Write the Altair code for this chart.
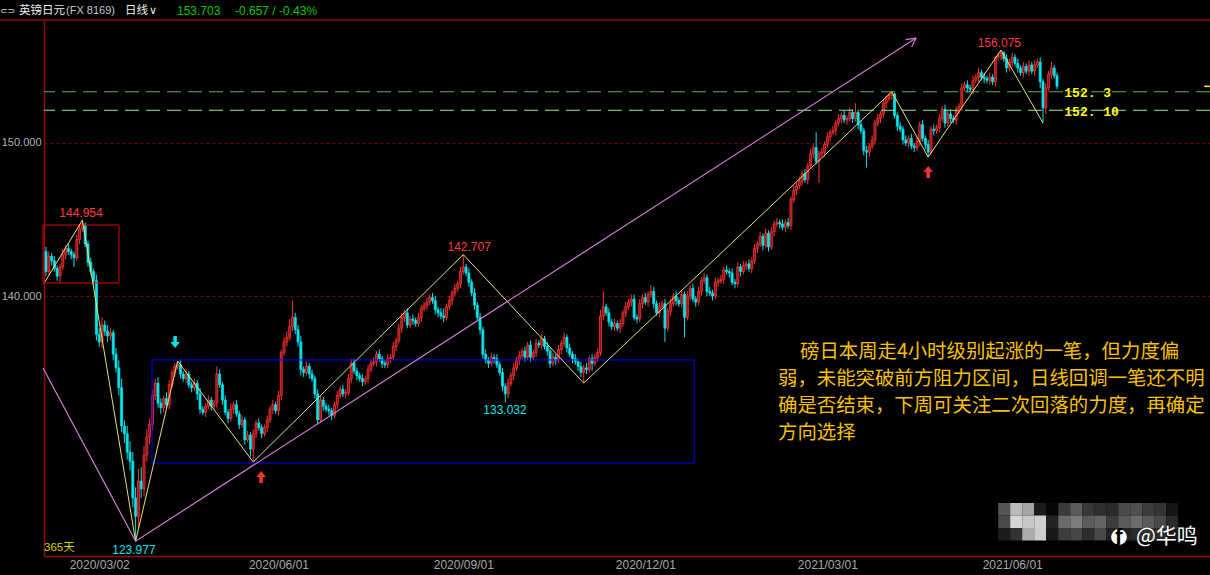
import altair as alt
import pandas as pd
import jinja2

# ---------------- candle data (GBP/JPY daily) ----------------
first_open = 142.9
closes = [
    141.6, 142.6, 142.3, 141.8, 141.3, 141.9, 142.7, 143.1, 142.9, 142.7,   # 0
    142.5, 143.7, 144.4, 144.6, 143.4, 142.2, 141.6, 141.0, 137.5, 137.0,   # 10
    138.1, 137.7, 137.4, 137.6, 136.2, 135.3, 134.0, 131.5, 131.0, 129.8,   # 20
    129.2, 126.8, 125.6, 127.9, 127.4, 129.6, 130.8, 131.6, 133.5, 134.3,   # 30
    133.0, 132.7, 133.3, 132.9, 134.2, 135.0, 135.4, 135.5, 134.9, 134.6,   # 40
    134.9, 134.2, 134.0, 134.3, 133.6, 132.6, 132.4, 132.8, 133.2, 132.8,   # 50
    133.0, 134.9, 134.2, 133.2, 132.4, 132.0, 132.6, 132.9, 132.3, 131.6,   # 60
    131.9, 130.6, 130.9, 130.0, 131.0, 131.7, 131.4, 131.0, 131.4, 131.9,   # 70
    132.6, 132.9, 132.5, 133.5, 136.3, 137.0, 137.3, 138.0, 138.6, 137.8,   # 80
    137.0, 135.2, 135.0, 135.4, 134.9, 134.6, 133.6, 131.9, 133.2, 132.8,   # 90
    132.6, 132.5, 132.2, 132.9, 133.5, 133.9, 133.6, 133.7, 134.6, 135.6,   # 100
    135.1, 134.8, 134.6, 134.4, 134.6, 135.2, 135.6, 135.7, 136.2, 135.9,   # 110
    135.6, 135.5, 135.9, 136.0, 136.7, 137.1, 137.9, 138.6, 138.9, 138.1,   # 120
    138.5, 138.4, 138.2, 138.6, 139.2, 139.4, 139.6, 139.9, 139.7, 139.1,   # 130
    138.9, 138.7, 138.6, 139.3, 139.7, 140.2, 140.5, 140.8, 141.6, 141.9,   # 140
    141.5, 140.9, 140.2, 139.4, 138.6, 137.8, 136.2, 135.8, 135.6, 136.0,   # 150
    135.9, 135.5, 135.0, 134.1, 133.6, 134.3, 134.8, 135.3, 135.8, 136.1,   # 160
    136.4, 136.0, 136.8, 136.0, 136.3, 136.9, 136.8, 137.2, 136.7, 136.4,   # 170
    135.6, 136.0, 135.8, 136.5, 136.9, 137.3, 136.6, 136.2, 135.9, 135.7,   # 180
    135.4, 135.0, 135.3, 135.2, 135.9, 135.6, 136.0, 136.3, 138.7, 139.3,   # 190
    138.9, 138.3, 138.0, 138.2, 137.9, 138.2, 138.9, 139.3, 139.6, 139.8,   # 200
    138.6, 138.5, 139.5, 139.9, 139.6, 140.1, 140.3, 139.5, 138.9, 139.3,   # 210
    139.5, 137.9, 139.0, 139.5, 140.0, 139.7, 139.5, 140.1, 138.6, 140.0,   # 220
    140.5, 139.8, 139.6, 140.3, 141.0, 141.2, 140.3, 140.2, 140.0, 140.9,   # 230
    141.0, 141.1, 141.7, 141.6, 141.5, 140.9, 140.8, 141.9, 141.6, 142.0,   # 240
    142.1, 141.8, 142.3, 143.1, 143.4, 143.9, 143.3, 144.1, 143.2, 144.2,   # 250
    144.7, 144.8, 144.7, 144.5, 144.8, 144.6, 146.3, 146.9, 147.2, 147.5,   # 260
    148.0, 147.6, 148.5, 149.3, 149.7, 148.8, 149.3, 149.4, 149.9, 150.4,   # 270
    150.7, 150.8, 151.3, 151.6, 151.8, 151.5, 151.6, 152.0, 151.6, 152.0,   # 280
    151.2, 150.8, 149.5, 149.4, 149.8, 150.2, 151.3, 151.6, 151.9, 152.6,   # 290
    152.9, 153.1, 153.2, 151.8, 151.1, 150.9, 150.2, 150.0, 150.3, 149.8,   # 300
    149.7, 150.1, 151.2, 150.3, 149.9, 149.4, 150.9, 150.8, 151.0, 151.6,   # 310
    152.2, 151.3, 151.9, 151.6, 151.5, 152.1, 152.4, 153.6, 153.8, 153.6,   # 320
    153.5, 154.1, 154.3, 154.6, 154.3, 154.2, 154.1, 154.3, 154.0, 155.6,   # 330
    155.7, 155.9, 155.5, 154.9, 155.3, 155.6, 155.2, 154.9, 154.6, 155.0,   # 340
    154.7, 155.1, 154.7, 155.1, 155.3, 154.0, 152.3, 153.6, 154.5, 154.9,   # 350
    154.4, 153.703,                                                         # 360
]
wick_up = [
    0.3, 0.3, 0.2, 0.3, 0.2, 0.2, 0.4, 0.2, 0.3, 0.2,
    0.2, 0.3, 0.3, 0.354, 0.2, 0.2, 0.3, 0.2, 0.4, 0.4,
    0.5, 0.3, 0.4, 0.3, 0.2, 0.4, 0.5, 0.6, 0.4, 0.5,
    0.7, 0.6, 0.7, 0.8, 0.9, 0.6, 0.5, 0.4, 0.4, 0.3,
    0.4, 0.3, 0.2, 0.4, 0.3, 0.2, 0.2, 0.25, 0.3, 0.2,
    0.3, 0.2, 0.2, 0.3, 0.2, 0.4, 0.2, 0.2, 0.3, 0.2,
    0.2, 0.5, 0.3, 0.2, 0.3, 0.2, 0.4, 0.2, 0.3, 0.2,
    0.3, 0.2, 0.3, 0.2, 0.3, 0.2, 0.3, 0.2, 0.2, 0.3,
    0.2, 0.3, 0.2, 0.3, 0.2, 0.3, 0.4, 0.5, 1.1, 0.3,
    0.3, 0.4, 0.2, 0.3, 0.2, 0.3, 0.2, 0.3, 0.3, 0.2,
    0.2, 0.3, 0.2, 0.2, 0.3, 0.2, 0.3, 0.2, 0.3, 0.3,
    0.3, 0.2, 0.2, 0.3, 0.2, 0.3, 0.2, 0.3, 0.2, 0.3,
    0.2, 0.2, 0.3, 0.2, 0.3, 0.2, 0.3, 0.3, 0.2, 0.3,
    0.2, 0.3, 0.2, 0.3, 0.2, 0.2, 0.3, 0.2, 0.3, 0.3,
    0.2, 0.3, 0.5, 0.2, 0.3, 0.2, 0.3, 0.2, 0.3, 0.807,
    0.2, 0.3, 0.2, 0.3, 0.2, 0.3, 0.2, 0.3, 0.2, 0.3,
    0.2, 0.3, 0.2, 0.3, 0.2, 0.3, 0.2, 0.3, 0.2, 0.3,
    0.2, 0.3, 0.2, 0.3, 0.2, 0.3, 0.2, 0.3, 0.2, 0.3,
    0.2, 0.3, 0.2, 0.3, 0.2, 0.3, 0.2, 0.3, 0.2, 0.3,
    0.2, 0.3, 0.2, 0.3, 0.2, 0.3, 0.2, 0.3, 0.4, 1.0,
    0.2, 0.3, 0.2, 0.3, 0.2, 0.3, 0.2, 0.3, 0.2, 0.3,
    0.3, 0.2, 0.3, 0.2, 0.3, 0.2, 0.4, 0.3, 0.2, 0.3,
    0.2, 0.3, 0.2, 0.3, 0.2, 0.3, 0.2, 0.3, 0.2, 0.3,
    0.2, 0.3, 0.2, 0.3, 0.2, 0.3, 0.2, 0.3, 0.2, 0.3,
    0.2, 0.3, 0.2, 0.3, 0.2, 0.3, 0.2, 0.3, 0.2, 0.3,
    0.2, 0.3, 0.2, 0.3, 0.2, 0.3, 0.2, 0.3, 0.2, 0.3,
    0.2, 0.3, 0.2, 0.3, 0.2, 0.3, 0.2, 0.3, 0.2, 0.3,
    0.2, 0.3, 0.2, 0.3, 0.2, 1.0, 0.2, 0.3, 0.2, 0.3,
    0.2, 0.3, 0.2, 0.3, 0.2, 0.3, 0.2, 0.3, 0.2, 0.6,
    0.2, 0.3, 0.2, 0.3, 0.2, 0.3, 0.2, 0.3, 0.2, 0.3,
    0.2, 0.15, 0.15, 0.1, 0.2, 0.3, 0.2, 0.3, 0.2, 0.3,
    0.2, 0.3, 0.2, 0.3, 0.2, 0.3, 0.2, 0.3, 0.2, 0.3,
    0.2, 0.3, 0.2, 0.3, 0.2, 0.3, 0.2, 0.3, 0.2, 0.3,
    0.2, 0.3, 0.2, 0.3, 0.2, 0.3, 0.2, 0.3, 0.2, 0.1,
    0.2, 0.175, 0.1, 0.3, 0.2, 0.3, 0.2, 0.3, 0.2, 0.3,
    0.2, 0.3, 0.2, 0.3, 0.2, 0.3, 0.2, 0.3, 0.2, 0.4,
    0.2, 0.2,
]
wick_dn = [
    0.3, 0.2, 0.3, 0.2, 0.3, 0.4, 0.2, 0.3, 0.2, 0.3,
    0.6, 0.2, 0.3, 0.2, 0.2, 0.3, 0.2, 0.3, 0.4, 0.3,
    0.4, 0.3, 0.4, 0.3, 0.4, 0.3, 0.5, 0.4, 0.6, 0.5,
    0.6, 0.6, 1.623, 0.8, 0.6, 0.5, 0.4, 0.5, 0.4, 0.3,
    0.3, 0.4, 0.3, 0.2, 0.3, 0.2, 0.3, 0.2, 0.3, 0.2,
    0.3, 0.2, 0.3, 0.2, 0.4, 0.3, 0.2, 0.3, 0.2, 0.3,
    0.2, 0.3, 0.2, 0.3, 0.2, 0.3, 0.2, 0.3, 0.2, 0.3,
    0.2, 0.3, 0.2, 0.5, 0.85, 0.3, 0.2, 0.3, 0.2, 0.3,
    0.2, 0.3, 0.2, 0.3, 0.3, 0.2, 0.3, 0.2, 0.3, 0.3,
    0.3, 0.4, 0.3, 0.2, 0.3, 0.2, 0.3, 0.3, 0.2, 0.3,
    0.2, 0.3, 0.3, 0.2, 0.3, 0.2, 0.2, 0.3, 0.2, 0.3,
    0.2, 0.3, 0.2, 0.3, 0.2, 0.3, 0.2, 0.2, 0.3, 0.2,
    0.3, 0.2, 0.2, 0.3, 0.2, 0.3, 0.2, 0.3, 0.3, 0.2,
    0.2, 0.3, 0.2, 0.2, 0.3, 0.2, 0.3, 0.2, 0.2, 0.3,
    0.3, 0.2, 0.3, 0.2, 0.2, 0.3, 0.2, 0.2, 0.3, 0.2,
    0.2, 0.3, 0.2, 0.3, 0.2, 0.3, 0.3, 0.2, 0.3, 0.2,
    0.3, 0.2, 0.2, 0.3, 0.568, 0.3, 0.2, 0.3, 0.2, 0.3,
    0.2, 0.3, 0.2, 0.3, 0.2, 0.3, 0.2, 0.3, 0.2, 0.3,
    0.3, 0.2, 0.3, 0.2, 0.3, 0.2, 0.3, 0.2, 0.3, 0.2,
    0.3, 0.3, 0.69, 0.3, 0.2, 0.5, 0.2, 0.3, 0.2, 0.3,
    0.2, 0.3, 0.2, 0.3, 0.2, 0.3, 0.2, 0.3, 0.2, 0.3,
    0.2, 0.3, 0.2, 0.3, 0.2, 0.3, 0.2, 0.3, 0.2, 0.3,
    0.2, 0.9, 0.2, 0.3, 0.2, 0.3, 0.2, 0.3, 1.3, 0.2,
    0.3, 0.2, 0.3, 0.2, 0.3, 0.2, 0.3, 0.2, 0.3, 0.2,
    0.3, 0.2, 0.3, 0.2, 0.3, 0.2, 0.3, 0.2, 0.3, 0.2,
    0.3, 0.2, 0.3, 0.2, 0.3, 0.2, 0.3, 0.2, 0.3, 0.2,
    0.3, 0.2, 0.3, 0.2, 0.3, 0.2, 0.3, 0.2, 0.3, 0.2,
    0.3, 0.2, 0.3, 0.2, 0.3, 0.2, 1.4, 0.2, 0.3, 0.2,
    0.3, 0.2, 0.3, 0.2, 0.3, 0.2, 0.3, 0.2, 0.3, 0.2,
    0.3, 0.2, 0.3, 1.0, 0.3, 0.2, 0.3, 0.2, 0.3, 0.2,
    0.3, 0.2, 0.3, 0.2, 0.3, 0.2, 0.3, 0.2, 0.3, 0.2,
    0.3, 0.2, 0.3, 0.2, 0.3, 0.32, 0.2, 0.3, 0.2, 0.3,
    0.2, 0.3, 0.2, 0.3, 0.2, 0.3, 0.2, 0.3, 0.2, 0.3,
    0.2, 0.3, 0.2, 0.3, 0.2, 0.3, 0.2, 0.3, 0.2, 0.3,
    0.2, 0.3, 0.2, 0.3, 0.2, 0.3, 0.2, 0.3, 0.2, 0.3,
    0.2, 0.3, 0.2, 0.3, 0.2, 0.4, 0.99, 0.4, 0.2, 0.3,
    0.2, 0.2,
]

# axis ticks
tick_idx = [19, 83, 149, 214, 279, 345]
tick_labels = ["2020/03/02", "2020/06/01", "2020/09/01", "2020/12/01", "2021/03/01", "2021/06/01"]
y_ticks = [140, 150]

# drawn annotations (index, price)
zig_i = [-0.36, 13, 32, 47, 74, 149, 192, 302, 315, 341, 356]
zig_p = [140.93, 144.954, 123.977, 135.75, 129.15, 142.707, 134.31, 153.35, 149.08, 156.075, 151.31]
mag_i = [-1.07, 32, 310.7]
mag_p = [135.29, 123.977, 156.86]
mag_wing_i = [306.9, 309.1]
mag_wing_p = [156.76, 156.27]

box_i0 = [-1.07, 37.86]
box_i1 = [26.07, 231.43]
box_p0 = [140.85, 129.08]
box_p1 = [144.64, 135.82]
box_col = ["#e00000", "#0000ff"]

level_p = [153.35, 152.14]
level_col = ["#52b452", "#90ee90"]
level_text = ["152. 3", "152. 10"]
level_text_i = [363.6, 363.6]
level_text_p = [153.24, 152.02]
last_price = 153.703
last_mark_i = [413.6, 415.6]

peak_text = ["144.954", "123.977", "142.707", "133.032", "156.075"]
peak_i = [12.5, 31.4, 151.1, 163.9, 340.4]
peak_p = [145.42, 123.40, 143.20, 132.55, 156.54]
peak_col = ["#ff3c3c", "#00e5ee", "#ff3c3c", "#00e5ee", "#ff3c3c"]

arrow_down_i = [46.1]
arrow_down_p = [137.0]
arrow_up_i = [76.8, 315.0]
arrow_up_p = [128.17, 148.10]

note_lines = [
    "磅日本周走4小时级别起涨的一笔，但力度偏",
    "弱，未能突破前方阻力区间，日线回调一笔还不明",
    "确是否结束，下周可关注二次回落的力度，再确定",
    "方向选择",
]

mosaic_grays = [
    ["#555555", "#bbbbbb", "#a5a5a5", "#1c1c1c", "#060606", "#3a3a3a", "#5a5a5a", "#383838",
     "#2e2e2e", "#2a2a2a", "#4a4a4a", "#505050", "#3c3c3c", "#333333", "#151515"],
    ["#4a4a4a", "#d5d5d5", "#c8c8c8", "#d0d0d0", "#222222", "#6a6a6a", "#7c7c7c", "#5c5c5c",
     "#646464", "#3c3c3c", "#5a5a5a", "#6c6c6c", "#5a5a5a", "#4a4a4a", "#2a2a2a"],
    ["#1c1c1c", "#333333", "#ababab", "#cdcdcd", "#181818", "#3c3c3c", "#474747", "#2c2c2c",
     "#484848", "#222222", "#222222", "#2a2a2a", "#303030", "#2a2a2a", "#181818"],
]

# ---------------- styles ----------------
RED = "#ff3535"
UP_FILL = "#8e1414"
CYAN = "#00e5ee"
FRAME = "#8c0c0c"
W, H = 1166, 536
PAD = {"left": 44, "top": 20, "right": 0, "bottom": 19}

n = min(len(closes), len(wick_up), len(wick_dn))
opens = [first_open] + closes[: n - 1]
highs = [round(max(o, c) + w, 3) for o, c, w in zip(opens, closes[:n], wick_up[:n])]
lows = [round(min(o, c) - w, 3) for o, c, w in zip(opens, closes[:n], wick_dn[:n])]
candles = pd.DataFrame({"i": list(range(n)), "o": opens, "h": highs, "l": lows, "c": closes[:n]})
candles["up"] = candles["c"] >= candles["o"]

xs = alt.Scale(domain=[-0.714, 415.63], nice=False, zero=False, padding=0)
ys = alt.Scale(domain=[123.007, 158.039], nice=False, zero=False, padding=0)

label_expr = " : ".join(f"datum.value == {v} ? '{t}'" for v, t in zip(tick_idx, tick_labels)) + " : ''"
AXX = alt.Axis(values=tick_idx, labelExpr=label_expr, grid=False, ticks=False,
               domainColor=FRAME, domainWidth=1.5, labelColor="#a8a8a8",
               labelFont="Liberation Sans", labelFontSize=12, labelPadding=3,
               labelOverlap=False, labelFlush=False, title=None)
AXY = alt.Axis(values=y_ticks, format=".3f", grid=True, gridColor="#7a0000", gridDash=[3, 3],
               gridWidth=1, ticks=False, domainColor=FRAME, domainWidth=1.5,
               labelColor="#b0b0b0", labelFont="Liberation Sans", labelFontSize=11,
               labelPadding=3, title=None)


def X(f):
    return alt.X(f, type="quantitative", scale=xs, axis=AXX)


def Y(f):
    return alt.Y(f, type="quantitative", scale=ys, axis=AXY)


def to_i(px):
    return (px - 46) / 2.8


def to_p(py):
    return 140 + (296 - py) / 15.3


layers = []

# candles
layers.append(alt.Chart(candles).mark_rule(strokeWidth=1).encode(
    x=X("i"), y=Y("l"), y2="h",
    color=alt.condition("datum.up", alt.value(RED), alt.value(CYAN))))
layers.append(alt.Chart(candles).mark_bar(size=2.0, strokeWidth=0.8).encode(
    x=X("i"), y=Y("o"), y2="c",
    fill=alt.condition("datum.up", alt.value(UP_FILL), alt.value(CYAN)),
    stroke=alt.condition("datum.up", alt.value(RED), alt.value(CYAN))))

# boxes
bx = pd.DataFrame({"i0": box_i0, "i1": box_i1, "p0": box_p0, "p1": box_p1, "col": box_col})
layers.append(alt.Chart(bx).mark_rect(fillOpacity=0, strokeWidth=1).encode(
    x=X("i0"), x2="i1", y=Y("p0"), y2="p1", stroke=alt.Stroke("col:N", scale=None)))

# green levels
lv = pd.DataFrame({"p": level_p, "col": level_col})
layers.append(alt.Chart(lv).mark_rule(strokeDash=[14, 7], strokeWidth=1).encode(
    y=Y("p"), color=alt.Color("col:N", scale=None)))

# last-price marker at the right edge
lm = pd.DataFrame({"ia": [last_mark_i[0]], "ib": [last_mark_i[1]], "p": [last_price]})
layers.append(alt.Chart(lm).mark_rule(color="#ffff00", strokeWidth=1.5).encode(
    x=X("ia"), x2="ib", y=Y("p")))

# zigzag and trend line
zz = pd.DataFrame({"i": zig_i, "p": zig_p, "k": list(range(len(zig_i)))})
layers.append(alt.Chart(zz).mark_line(color="#e8e27a", strokeWidth=1).encode(
    x=X("i"), y=Y("p"), order="k:Q"))
mg = pd.DataFrame({"i": mag_i, "p": mag_p, "k": list(range(len(mag_i)))})
layers.append(alt.Chart(mg).mark_line(color="#d87ad8", strokeWidth=1.2).encode(
    x=X("i"), y=Y("p"), order="k:Q"))
wing = pd.DataFrame({"ia": [mag_i[-1]] * 2, "pa": [mag_p[-1]] * 2, "ib": mag_wing_i, "pb": mag_wing_p})
layers.append(alt.Chart(wing).mark_rule(color="#d87ad8", strokeWidth=1.2).encode(
    x=X("ia"), x2="ib", y=Y("pa"), y2="pb"))

# level labels
lt = pd.DataFrame({"i": level_text_i, "p": level_text_p, "t": level_text})
layers.append(alt.Chart(lt).mark_text(align="left", baseline="middle", font="Liberation Mono",
                                      fontSize=13, fontWeight="bold", color="#ffff00").encode(
    x=X("i"), y=Y("p"), text="t:N"))

# peak labels
pk = pd.DataFrame({"i": peak_i, "p": peak_p, "t": peak_text, "col": peak_col})
layers.append(alt.Chart(pk).mark_text(align="center", baseline="middle", font="Liberation Sans",
                                      fontSize=12).encode(
    x=X("i"), y=Y("p"), text="t:N", color=alt.Color("col:N", scale=None)))

# arrows
DOWN = "M-0.35,-1.2L0.35,-1.2L0.35,0L0.95,0L0,1.2L-0.95,0L-0.35,0Z"
UP = "M-0.35,1.2L0.35,1.2L0.35,0L0.95,0L0,-1.2L-0.95,0L-0.35,0Z"
ad = pd.DataFrame({"i": arrow_down_i, "p": arrow_down_p})
layers.append(alt.Chart(ad).mark_point(shape=DOWN, filled=True, size=100, opacity=1,
                                       strokeWidth=0, color=CYAN).encode(x=X("i"), y=Y("p")))
au = pd.DataFrame({"i": arrow_up_i, "p": arrow_up_p})
layers.append(alt.Chart(au).mark_point(shape=UP, filled=True, size=100, opacity=1,
                                       strokeWidth=0, color="#ff3030").encode(x=X("i"), y=Y("p")))

# watermark mosaic
cells = []
for r, row in enumerate(mosaic_grays):
    for k, g in enumerate(row):
        px0 = 998 + 12 * k
        py0 = 503 + 12.5 * r
        cells.append({"i0": to_i(px0), "i1": to_i(px0 + 12), "p0": to_p(py0), "p1": to_p(py0 + 12.5), "g": g})
layers.append(alt.Chart(pd.DataFrame(cells)).mark_rect().encode(
    x=X("i0"), x2="i1", y=Y("p0"), y2="p1", fill=alt.Fill("g:N", scale=None)))

one = pd.DataFrame({"k": [0]})
# logo
layers.append(alt.Chart(one).mark_point(shape="circle", filled=True, size=250, opacity=1,
                                        color="#ffffff").encode(
    x=alt.value(1119 - 44), y=alt.value(537 - 20)))
layers.append(alt.Chart(one).mark_text(text="ƒ", font="DejaVu Sans", fontSize=17, fontWeight="bold",
                                       color="#000000", baseline="middle").encode(
    x=alt.value(1119 - 44), y=alt.value(537 - 20)))


def ptext(txt, px, py, color, size, font, weight="normal", align="left"):
    return alt.Chart(one).mark_text(text=txt, font=font, fontSize=size, fontWeight=weight,
                                    color=color, align=align, baseline="middle").encode(
        x=alt.value(px - PAD["left"]), y=alt.value(py - PAD["top"]))


CJK = "Noto Sans CJK SC"
layers.append(ptext("@华鸣", 1136, 537, "#ffffff", 21, CJK))
layers.append(ptext("365天", 44, 548, "#d4d400", 11.5, "Liberation Sans, Noto Sans CJK SC"))

# note paragraph
note_x = [800, 778, 778, 778]
note_y = [352, 379, 406, 433]
for txt, px, py in zip(note_lines, note_x, note_y):
    layers.append(ptext(txt, px, py, "#f7c000", 19.4, CJK))

# header
layers.append(alt.Chart(one).mark_rule(color=FRAME, strokeWidth=1.5).encode(
    x=alt.value(-PAD["left"]), x2=alt.value(W), y=alt.value(0)))
layers.append(ptext("⊂⊃", 0, 11, "#d8d8d8", 9, "DejaVu Sans"))
layers.append(ptext("英镑日元", 19, 11, "#eeeeee", 11.5, CJK))
layers.append(ptext("(FX 8169)", 66, 11, "#c4c4c4", 11, "Liberation Sans"))
layers.append(ptext("日线", 125, 11, "#eeeeee", 11.5, CJK))
layers.append(ptext("∨", 149, 11, "#eeeeee", 11, "DejaVu Sans"))
layers.append(ptext("153.703", 177, 11, "#00c800", 12, "Liberation Sans"))
layers.append(ptext("-0.657 / -0.43%", 235, 11, "#00c800", 12, "Liberation Sans"))

chart = alt.layer(*layers).properties(
    width=W, height=H, padding=PAD, autosize=alt.AutoSizeParams(type="none")
).configure(background="#000000").configure_view(strokeWidth=0)

PAGE = jinja2.Template("""<!DOCTYPE html>
<html>
<head>
<meta charset="utf-8">
<style>
html, body { margin: 0; padding: 0; background: #000000; overflow: hidden; }
#{{ output_div }}.vega-embed { width: 100%; display: flex; }
</style>
<script type="text/javascript" src="{{ base_url }}/vega@{{ vega_version }}"></script>
<script type="text/javascript" src="{{ base_url }}/vega-lite@{{ vegalite_version }}"></script>
<script type="text/javascript" src="{{ base_url }}/vega-embed@{{ vegaembed_version }}"></script>
</head>
<body>
<div id="{{ output_div }}"></div>
<script>
(function(vegaEmbed) {
  var spec = {{ spec }};
  var embedOpt = {{ embed_options }};
  vegaEmbed("#{{ output_div }}", spec, embedOpt).catch(function(err) {
    document.getElementById("{{ output_div }}").innerHTML = "<p style='color:red'>" + err.message + "</p>";
  });
})(vegaEmbed);
</script>
</body>
</html>""")

try:
    chart.save("out.html", embed_options={"renderer": "svg", "actions": False}, template=PAGE)
except Exception:
    chart.save("out.html", embed_options={"renderer": "svg", "actions": False})
